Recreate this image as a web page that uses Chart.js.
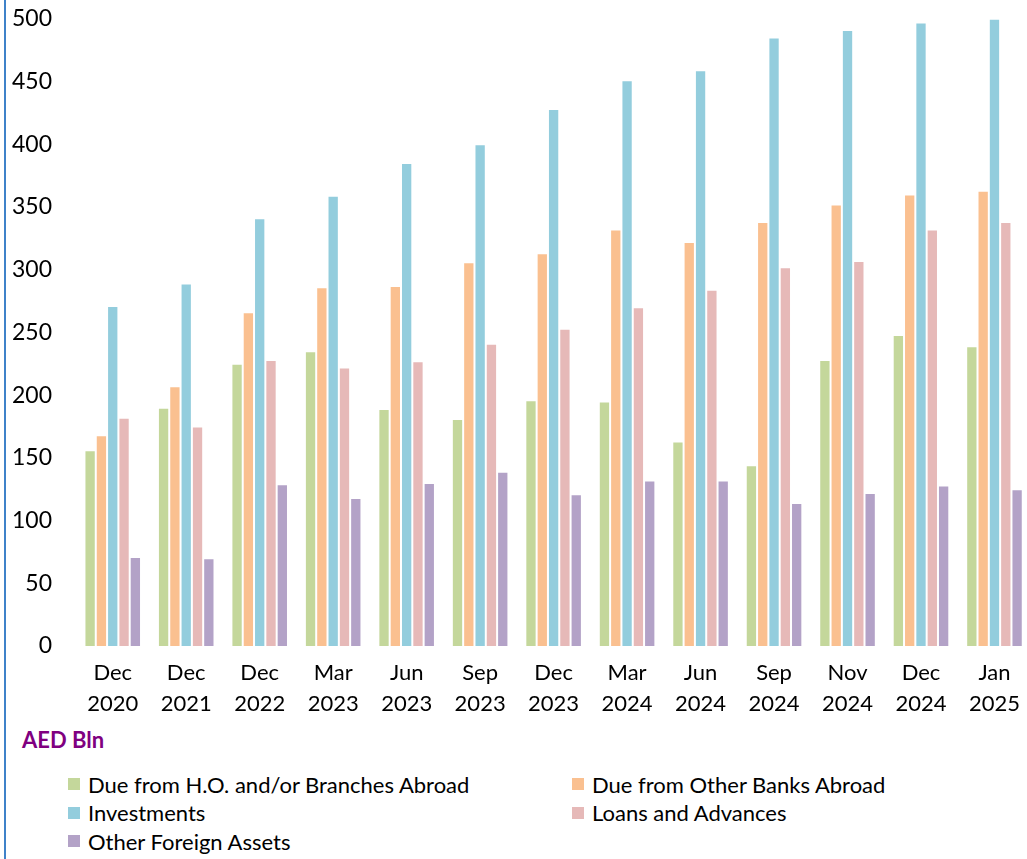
<!DOCTYPE html>
<html lang="en">
<head>
    <meta charset="UTF-8">
    <title>Foreign Assets of Banks</title>
    <style>
        body {
            margin: 0;
            background-color: #ffffff;
            font-family: Lato, Arial, sans-serif;
            overflow: hidden;
        }

        .frame {
            position: relative;
            width: 1027px;
            height: 859px;
            overflow: hidden;
        }

        .frame-line {
            position: absolute;
            left: 4px;
            top: 0;
            width: 2px;
            height: 859px;
            background-color: #3f82c9;
        }

        /* canvas is shifted up so the 500 tick sits near the top edge */
        #barChart {
            position: absolute;
            left: 0;
            top: -19px;
        }

        .unit {
            position: absolute;
            left: 22px;
            top: 726px;
            color: #800080;
            font-weight: bold;
            font-size: 22px;
        }

        .legend {
            position: absolute;
            left: 68px;
            top: 772px;
            width: 940px;
            display: grid;
            grid-template-columns: 504px 420px;
            row-gap: 4.5px;
            font-size: 22px;
            color: #000;
        }

        .legend-item {
            display: flex;
            align-items: center;
            height: 24px;
        }

        .legend-box {
            width: 12px;
            height: 12px;
            margin-right: 8px;
        }
    </style>
</head>
<body>

<div class="frame">
    <canvas id="barChart" width="1032" height="737"></canvas>
    <div class="frame-line"></div>
    <div class="unit">AED Bln</div>
    <div class="legend" id="legend"></div>
</div>

<script src="https://cdn.jsdelivr.net/npm/chart.js"></script>
<script>
// categories (two-line labels)
const periods = [
    ['Dec', '2020'], ['Dec', '2021'], ['Dec', '2022'], ['Mar', '2023'], ['Jun', '2023'],
    ['Sep', '2023'], ['Dec', '2023'], ['Mar', '2024'], ['Jun', '2024'], ['Sep', '2024'],
    ['Nov', '2024'], ['Dec', '2024'], ['Jan', '2025']
];

// values, AED Bln
const dueFromHO = [156, 190, 225, 235, 189, 181, 196, 195, 163, 144, 228, 248, 239];
const dueFromOtherBanks = [168, 207, 266, 286, 287, 306, 313, 332, 322, 338, 352, 360, 363];
const investments = [271, 289, 341, 359, 385, 400, 428, 451, 459, 485, 491, 497, 500];
const loansAndAdvances = [182, 175, 228, 222, 227, 241, 253, 270, 284, 302, 307, 332, 338];
const otherForeignAssets = [71, 70, 129, 118, 130, 139, 121, 132, 132, 114, 122, 128, 125];

const yTicks = [0, 50, 100, 150, 200, 250, 300, 350, 400, 450, 500];

const series = [
    { label: 'Due from H.O. and/or Branches Abroad', data: dueFromHO, color: '#c4d79b' },
    { label: 'Due from Other Banks Abroad', data: dueFromOtherBanks, color: '#fac090' },
    { label: 'Investments', data: investments, color: '#93cddd' },
    { label: 'Loans and Advances', data: loansAndAdvances, color: '#e6b9b8' },
    { label: 'Other Foreign Assets', data: otherForeignAssets, color: '#b3a2c7' }
];

const ctx = document.getElementById('barChart').getContext('2d');

new Chart(ctx, {
    type: 'bar',
    data: {
        labels: periods,
        datasets: series.map(s => ({
            label: s.label,
            data: s.data,
            backgroundColor: s.color,
            borderColor: 'rgba(255, 255, 255, 0.5)',
            borderWidth: 1,
            categoryPercentage: 0.77,
            barPercentage: 1.0
        }))
    },
    options: {
        responsive: false,
        animation: false,
        layout: { padding: 0 },
        plugins: {
            legend: { display: false },
            tooltip: { enabled: false }
        },
        scales: {
            x: {
                grid: { display: false, drawTicks: false },
                border: { display: false },
                ticks: {
                    color: '#000',
                    font: { family: 'Lato', size: 22, lineHeight: 1.4 },
                    padding: 12,
                    maxRotation: 0,
                    autoSkip: false
                },
                afterFit: scale => { scale.height = 72; }
            },
            y: {
                min: 0,
                max: 500,
                grid: { display: false, drawTicks: false },
                border: { display: false },
                afterBuildTicks: scale => { scale.ticks = yTicks.map(v => ({ value: v })); },
                ticks: {
                    color: '#000',
                    font: { family: 'Lato', size: 23 },
                    padding: 24
                },
                afterFit: scale => { scale.width = 76; }
            }
        }
    }
});

// legend in two columns, built from the same series list
const legendEl = document.getElementById('legend');
series.forEach(s => {
    const item = document.createElement('div');
    item.className = 'legend-item';
    const box = document.createElement('span');
    box.className = 'legend-box';
    box.style.backgroundColor = s.color;
    item.appendChild(box);
    item.appendChild(document.createTextNode(s.label));
    legendEl.appendChild(item);
});
</script>

</body>
</html>
